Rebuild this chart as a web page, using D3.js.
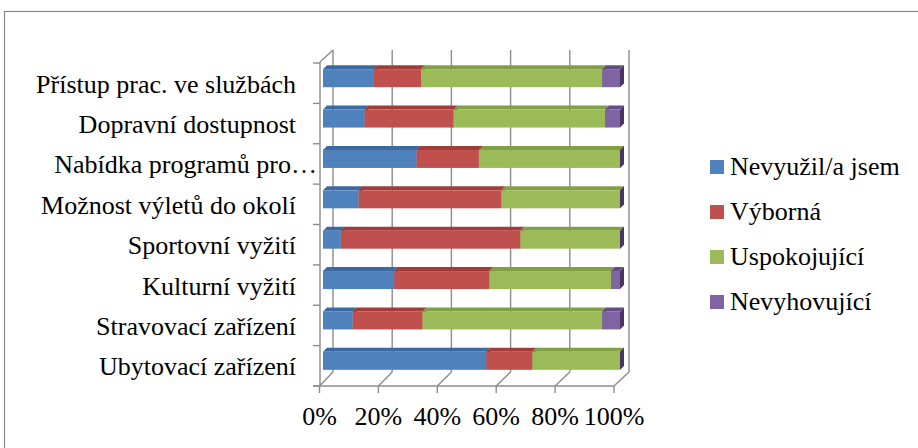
<!DOCTYPE html>
<html><head><meta charset="utf-8">
<script src="https://cdn.jsdelivr.net/npm/d3@7"></script>
<style>
svg text { font-family: "Liberation Serif", "Times New Roman", Times, serif !important; }
</style>
</head><body style="margin:0;padding:0;background:#fff;">
<script>
const categories = ["Přístup prac. ve službách","Dopravní dostupnost","Nabídka programů pro…","Možnost výletů do okolí","Sportovní vyžití","Kulturní vyžití","Stravovací zařízení","Ubytovací zařízení"];
const seriesNames = ["Nevyužil/a jsem","Výborná","Uspokojující","Nevyhovující"];
const nevyuzil     = [17, 14, 31.5, 12, 6,    24, 10,   55];
const vyborna      = [16, 30, 21,   48, 60.5, 32, 23.5, 15.5];
const uspokojujici = [61, 51, 47.5, 40, 33.5, 41, 60.5, 29.5];
const nevyhovujici = [6,  5,  0,    0,  0,    3,  6,    0];
const tickValues = [0, 0.2, 0.4, 0.6, 0.8, 1];
const tickLabels = ["0%","20%","40%","60%","80%","100%"];

const colors = ["#4F81BD","#C0504D","#9BBB59","#8064A2"];
const topCol = ["#3B6AA3","#A23C39","#80A044","#654C87"];
const sideCol = ["#2C5282","#7F2A28","#627E31","#4A3466"];

const W = 918, H = 448;
const svg = d3.select("body").append("svg").attr("width", W).attr("height", H)
  .style("display","block");
const FS = "26px";

svg.append("rect").attr("x",4.5).attr("y",11.5).attr("width",1000).attr("height",1000)
  .attr("fill","none").attr("stroke","#888").attr("stroke-width",1.2);

const xFront = d3.scaleLinear().domain([0,1]).range([319.5,614]);
const xBack  = d3.scaleLinear().domain([0,1]).range([333,629]);
const xBar   = d3.scaleLinear().domain([0,100]).range([323,620]);
const y = d3.scaleBand().domain(categories).range([63,386]).padding(0);
const dY = -14;
const floorY = 386, backTop = 50;
const grid = "#8c8c8c";

const g = svg.append("g");
tickValues.forEach(t => {
  g.append("line").attr("x1",xBack(t)).attr("x2",xBack(t)).attr("y1",backTop).attr("y2",floorY+dY)
    .attr("stroke",grid).attr("stroke-width",1.4);
  g.append("line").attr("x1",xFront(t)).attr("y1",floorY).attr("x2",xBack(t)).attr("y2",floorY+dY)
    .attr("stroke",grid).attr("stroke-width",1.4);
  g.append("line").attr("x1",xFront(t)).attr("x2",xFront(t)).attr("y1",floorY).attr("y2",floorY+7)
    .attr("stroke",grid).attr("stroke-width",1.4);
});
g.append("line").attr("x1",313).attr("x2",xFront(1)).attr("y1",floorY).attr("y2",floorY)
  .attr("stroke",grid).attr("stroke-width",1.4);
g.append("line").attr("x1",320).attr("x2",320).attr("y1",backTop+12).attr("y2",floorY)
  .attr("stroke",grid).attr("stroke-width",1.4);
g.append("line").attr("x1",320).attr("y1",backTop+12).attr("x2",xBack(0)).attr("y2",backTop)
  .attr("stroke",grid).attr("stroke-width",1.4);
const tickYs = categories.map(c => y(c)).concat([y.range()[1]]);
tickYs.forEach(ty => {
  g.append("line").attr("x1",313).attr("x2",320).attr("y1",ty).attr("y2",ty)
    .attr("stroke",grid).attr("stroke-width",1.4);
});

const series = [nevyuzil, vyborna, uspokojujici, nevyhovujici];
const bh = 18, bd = 4;
categories.forEach((c, i) => {
  const cy = y(c) + y.bandwidth()/2 - 5;
  const y0 = cy - bh/2;
  let acc = 0;
  series.forEach((s, k) => {
    const x0 = xBar(acc), x1 = xBar(acc + s[i]);
    acc += s[i];
    g.append("path").attr("d", `M${x1},${y0} L${x1+bd},${y0-bd} L${x1+bd},${y0+bh-bd} L${x1},${y0+bh} Z`)
      .attr("fill", sideCol[k]);
    if (x1 > x0) {
      g.append("path").attr("d", `M${x0},${y0} L${x0+bd},${y0-bd} L${x1+bd},${y0-bd} L${x1},${y0} Z`)
        .attr("fill", topCol[k]);
      g.append("rect").attr("x",x0).attr("y",y0).attr("width",x1-x0).attr("height",bh)
        .attr("fill", colors[k]);
    }
  });
});

function label(x, yy, txt, anchor) {
  return svg.append("text").attr("x", x).attr("y", yy).attr("text-anchor", anchor)
    .attr("font-family", "Liberation Serif").style("font-size", FS).attr("fill", "#000").text(txt);
}
categories.forEach(c => {
  const trunc = c.endsWith("…");
  label(trunc ? 317 : 296, y(c) + y.bandwidth()/2 + 9.5, c, "end");
});
tickValues.forEach((t, i) => label(xFront(t), 425, tickLabels[i], "middle"));
seriesNames.forEach((n, k) => {
  const ly = 160 + k*45;
  svg.append("rect").attr("x",710).attr("y",ly).attr("width",14).attr("height",14).attr("fill",colors[k]);
  label(730, ly+15, n, "start");
});
</script>
</body></html>
